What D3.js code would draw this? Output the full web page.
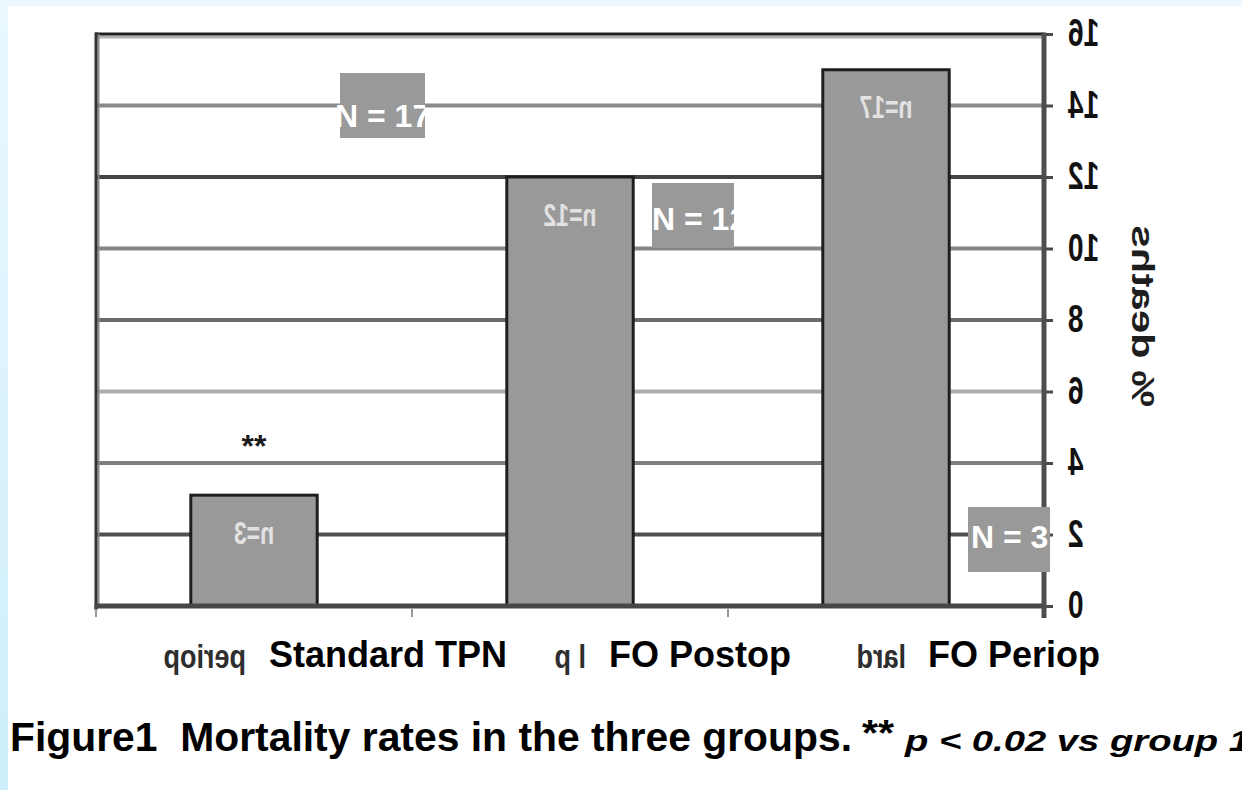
<!DOCTYPE html>
<html>
<head>
<meta charset="utf-8">
<script src="https://cdn.jsdelivr.net/npm/d3@7"></script>
<style>
  html, body { margin: 0; padding: 0; background: #ffffff; }
  svg { display: block; font-family: Arial, "Liberation Sans", sans-serif; }
</style>
</head>
<body>
<svg id="chart" width="1242" height="790"></svg>
<script>
// ---- data ----
const categories = ["Standard TPN", "FO Postop", "FO Periop"];
const mortalityPct = [3.1, 12.0, 15.0];
const deathLabels = ["n=3", "n=12", "n=17"];
const groupSizeLabels = ["N = 3", "N = 12", "N = 17"];
const yTicks = [0, 2, 4, 6, 8, 10, 12, 14, 16];
const axisTitle = "% deaths";
const mirroredCategoryText = ["periop", "l p", "lard"];
const significanceMark = "**";
const captionMain = "Figure1  Mortality rates in the three groups.";
const captionStars = "**";
const captionNote = "p < 0.02 vs group 1";

// ---- layout ----
const W = 1242, H = 790;
const plot = { left: 96, right: 1044, top: 34, bottom: 606 };
const gridColor = { 2: "#505050", 4: "#7e7e7e", 6: "#adadad", 8: "#6c6c6c",
                    10: "#858585", 12: "#444444", 14: "#8a8a8a" };
// grey "N = .." boxes laid over the plot (pixel placement)
const nBoxes = [
  { x: 968, y: 507, w: 82, h: 65, tx: 3,  base: 41 },
  { x: 652, y: 183, w: 82, h: 65, tx: 0,  base: 47 },
  { x: 340, y: 73,  w: 85, h: 65, tx: -5, base: 54 }
];
const labelShift = [15, 39, 42];      // category label start, from band centre
const mirrorShift = [-8, 16, 20];     // mirrored fragment right edge, from band centre

const svg = d3.select("#chart");
const defs = svg.append("defs");

const x = d3.scaleBand()
  .domain(categories)
  .range([plot.left, plot.right])
  .paddingInner(0.6)
  .paddingOuter(0.3);

const y = d3.scaleLinear()
  .domain([0, 16])
  .range([plot.bottom, plot.top]);

// ---- page background ----
const bg = defs.append("linearGradient").attr("id", "edge")
  .attr("x1", 0).attr("y1", 0).attr("x2", 0).attr("y2", 1);
bg.append("stop").attr("offset", "0%").attr("stop-color", "#eaf8fe");
bg.append("stop").attr("offset", "100%").attr("stop-color", "#cdeefb");
svg.append("rect").attr("width", W).attr("height", H).attr("fill", "#ffffff");
svg.append("rect").attr("x", 0).attr("y", 0).attr("width", W).attr("height", 6).attr("fill", "#eef7fd");
svg.append("rect").attr("x", 0).attr("y", 0).attr("width", 8).attr("height", H).attr("fill", "url(#edge)");

// ---- gridlines ----
const grid = svg.append("g");
grid.selectAll("line.grid")
  .data(yTicks.filter(t => t > 0 && t < 16))
  .join("line")
  .attr("class", "grid")
  .attr("x1", plot.left).attr("x2", plot.right)
  .attr("y1", d => y(d)).attr("y2", d => y(d))
  .attr("stroke", d => gridColor[d])
  .attr("stroke-width", 4);

// frame top and left
grid.append("line")
  .attr("x1", plot.left).attr("x2", plot.right)
  .attr("y1", y(16) + 3).attr("y2", y(16) + 3)
  .attr("stroke", "#b3b3b3").attr("stroke-width", 3);
grid.append("line")
  .attr("x1", plot.left - 1).attr("x2", plot.right)
  .attr("y1", y(16)).attr("y2", y(16))
  .attr("stroke", "#222222").attr("stroke-width", 3);
grid.append("line")
  .attr("x1", plot.left + 2.5).attr("x2", plot.left + 2.5)
  .attr("y1", y(16)).attr("y2", y(0))
  .attr("stroke", "#8a8a8a").attr("stroke-width", 2);
grid.append("line")
  .attr("x1", plot.left).attr("x2", plot.left)
  .attr("y1", y(16) - 1.5).attr("y2", y(0) + 4)
  .attr("stroke", "#333333").attr("stroke-width", 3);

// ---- bars ----
svg.append("g").selectAll("rect")
  .data(categories)
  .join("rect")
  .attr("x", d => x(d))
  .attr("y", (d, i) => y(mortalityPct[i]))
  .attr("width", x.bandwidth())
  .attr("height", (d, i) => y(0) - y(mortalityPct[i]))
  .attr("fill", "#999999")
  .attr("stroke", "#1e1e1e")
  .attr("stroke-width", 3);

// mirrored death counts inside the bars
svg.append("g").selectAll("text")
  .data(categories)
  .join("text")
  .attr("transform", (d, i) =>
    `translate(${x(d) + x.bandwidth() / 2},${y(mortalityPct[i]) + 37}) scale(-1,1.4)`)
  .attr("text-anchor", "middle")
  .attr("dy", "0.36em")
  .attr("font-size", 23)
  .attr("font-weight", "bold")
  .attr("fill", "#e2e2e2")
  .text((d, i) => deathLabels[i]);

// significance mark above the first bar
svg.append("text")
  .attr("x", x(categories[0]) + x.bandwidth() / 2)
  .attr("y", y(mortalityPct[0]) - 38)
  .attr("text-anchor", "middle")
  .attr("font-size", 32)
  .attr("font-weight", "bold")
  .attr("fill", "#1a1a1a")
  .text(significanceMark);

// ---- category axis (bottom) ----
svg.append("line")
  .attr("x1", plot.left - 1.5).attr("x2", plot.right)
  .attr("y1", y(0)).attr("y2", y(0))
  .attr("stroke", "#474747").attr("stroke-width", 5);

const step = x.step();
const bounds = categories.map(c => x(c) - step * 0.3).concat([plot.right]);
svg.append("g").selectAll("line")
  .data(bounds)
  .join("line")
  .attr("x1", d => d).attr("x2", d => d)
  .attr("y1", y(0) + 3).attr("y2", y(0) + 11)
  .attr("stroke", "#9a9a9a").attr("stroke-width", 2);

// ---- value axis (right, mirrored labels) ----
const yAxis = svg.append("g")
  .attr("transform", `translate(${plot.right},0)`)
  .call(d3.axisRight(y).tickValues(yTicks).tickSize(9).tickSizeOuter(0).tickFormat(d3.format("d")));
yAxis.select(".domain").remove();
yAxis.selectAll(".tick line").attr("stroke", "#4a4a4a").attr("stroke-width", 3);
yAxis.selectAll(".tick text")
  .attr("x", null).attr("dy", null)
  .attr("transform", "translate(24,-2) scale(-1,1.38)")
  .attr("text-anchor", "end")
  .attr("dy", "0.36em")
  .attr("font-size", 28)
  .attr("font-weight", "bold")
  .attr("font-family", "Arial, 'Liberation Sans', sans-serif")
  .attr("fill", "#111111");
svg.append("line")
  .attr("x1", plot.right).attr("x2", plot.right)
  .attr("y1", y(16) - 1.5).attr("y2", y(0) + 12)
  .attr("stroke", "#4e4e4e").attr("stroke-width", 5);

// mirrored axis title
svg.append("text")
  .attr("transform", `translate(1144,316) scale(-1,1) rotate(-90)`)
  .attr("text-anchor", "middle")
  .attr("dy", "0.36em")
  .attr("font-size", 32)
  .attr("font-weight", "bold")
  .attr("textLength", 182)
  .attr("lengthAdjust", "spacingAndGlyphs")
  .attr("fill", "#1e1e1e")
  .text(axisTitle);

// mirrored category fragments
svg.append("g").selectAll("text")
  .data(categories)
  .join("text")
  .attr("transform", (d, i) =>
    `translate(${x(d) + x.bandwidth() / 2 + mirrorShift[i]},668) scale(-1,1.25)`)
  .attr("text-anchor", "start")
  .attr("font-size", 27)
  .attr("font-weight", "bold")
  .attr("fill", "#2e2e2e")
  .text((d, i) => mirroredCategoryText[i]);

// category labels
svg.append("g").selectAll("text")
  .data(categories)
  .join("text")
  .attr("x", (d, i) => x(d) + x.bandwidth() / 2 + labelShift[i])
  .attr("y", 667)
  .attr("font-size", 36)
  .attr("font-weight", "bold")
  .attr("fill", "#000000")
  .text(d => d);

// ---- grey group-size boxes ----
const boxes = svg.append("g").selectAll("g")
  .data(nBoxes)
  .join("g");
boxes.each(function (b, i) {
  defs.append("clipPath").attr("id", "nclip" + i)
    .append("rect")
    .attr("x", b.x - 12).attr("y", b.y - 5)
    .attr("width", b.w + 12).attr("height", b.h + 10);
});
boxes.append("rect")
  .attr("x", b => b.x).attr("y", b => b.y)
  .attr("width", b => b.w).attr("height", b => b.h)
  .attr("fill", "#999999");
boxes.append("text")
  .attr("clip-path", (b, i) => `url(#nclip${i})`)
  .attr("x", b => b.x + b.tx)
  .attr("y", b => b.y + b.base)
  .attr("font-size", 32)
  .attr("font-weight", "bold")
  .attr("fill", "#ffffff")
  .text((b, i) => groupSizeLabels[i]);

// ---- caption ----
const cap = svg.append("g").attr("fill", "#000000").attr("font-weight", "bold");
cap.append("text")
  .attr("x", 10).attr("y", 751)
  .attr("font-size", 41)
  .attr("textLength", 842)
  .attr("lengthAdjust", "spacingAndGlyphs")
  .style("white-space", "pre")
  .text(captionMain);
cap.append("text")
  .attr("x", 862).attr("y", 746)
  .attr("font-size", 36)
  .attr("textLength", 32)
  .attr("lengthAdjust", "spacingAndGlyphs")
  .text(captionStars);
cap.append("text")
  .attr("x", 905).attr("y", 751)
  .attr("font-size", 30)
  .attr("font-style", "italic")
  .attr("textLength", 345)
  .attr("lengthAdjust", "spacingAndGlyphs")
  .text(captionNote);
</script>
</body>
</html>
